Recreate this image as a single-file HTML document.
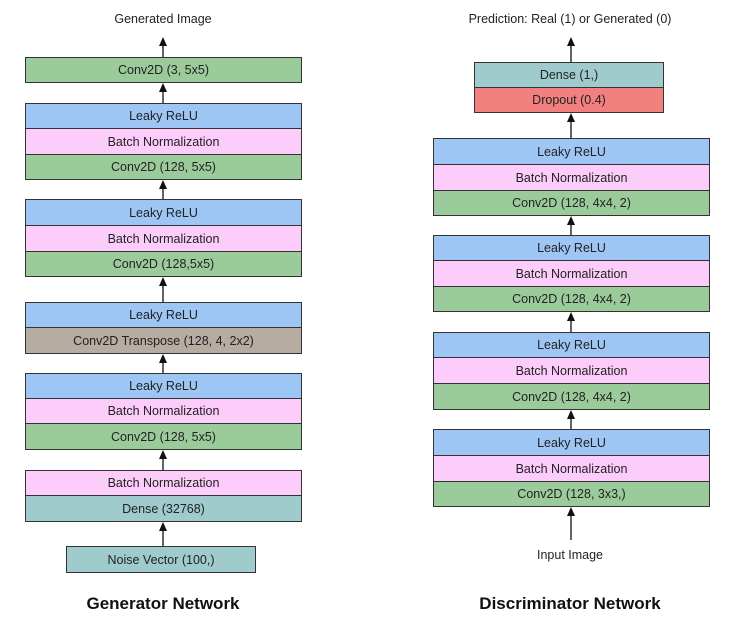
<!DOCTYPE html>
<html><head><style>
body{margin:0;width:740px;height:628px;background:#fff;position:relative;font-family:"Liberation Sans",sans-serif;overflow:hidden}
.b{position:absolute;box-sizing:border-box;border:1px solid #333;font-size:12.5px;color:#222;text-align:center;display:flex;align-items:center;justify-content:center}
.L{background:#9dc6f5}.P{background:#fcccfb}.G{background:#9ccb9b}.T{background:#9fcbcc}.R{background:#f2807e}.Y{background:#b6aca2}
.t{position:absolute;font-size:12.5px;color:#222;text-align:center}
.h{position:absolute;font-size:17px;font-weight:bold;color:#111;text-align:center}
svg{position:absolute;left:0;top:0}
</style></head><body>
<div class="t" style="left:25px;width:276px;top:12px">Generated Image</div>
<div class="b G" style="left:25px;top:57px;width:277px;height:26px">Conv2D (3, 5x5)</div>
<div class="b L" style="left:25px;top:103px;width:277px;height:26px">Leaky ReLU</div>
<div class="b P" style="left:25px;top:128px;width:277px;height:27px">Batch Normalization</div>
<div class="b G" style="left:25px;top:154px;width:277px;height:26px">Conv2D (128, 5x5)</div>
<div class="b L" style="left:25px;top:199px;width:277px;height:27px">Leaky ReLU</div>
<div class="b P" style="left:25px;top:225px;width:277px;height:27px">Batch Normalization</div>
<div class="b G" style="left:25px;top:251px;width:277px;height:26px">Conv2D (128,5x5)</div>
<div class="b L" style="left:25px;top:302px;width:277px;height:26px">Leaky ReLU</div>
<div class="b Y" style="left:25px;top:327px;width:277px;height:27px">Conv2D Transpose (128, 4, 2x2)</div>
<div class="b L" style="left:25px;top:373px;width:277px;height:26px">Leaky ReLU</div>
<div class="b P" style="left:25px;top:398px;width:277px;height:26px">Batch Normalization</div>
<div class="b G" style="left:25px;top:423px;width:277px;height:27px">Conv2D (128, 5x5)</div>
<div class="b P" style="left:25px;top:470px;width:277px;height:26px">Batch Normalization</div>
<div class="b T" style="left:25px;top:495px;width:277px;height:27px">Dense (32768)</div>
<div class="b T" style="left:66px;top:546px;width:190px;height:27px">Noise Vector (100,)</div>
<div class="h" style="left:25px;width:276px;top:594px">Generator Network</div>

<div class="t" style="left:420px;width:300px;top:12px">Prediction: Real (1) or Generated (0)</div>
<div class="b T" style="left:474px;top:62px;width:190px;height:26px">Dense (1,)</div>
<div class="b R" style="left:474px;top:87px;width:190px;height:26px">Dropout (0.4)</div>
<div class="b L" style="left:433px;top:138px;width:277px;height:27px">Leaky ReLU</div>
<div class="b P" style="left:433px;top:164px;width:277px;height:27px">Batch Normalization</div>
<div class="b G" style="left:433px;top:190px;width:277px;height:26px">Conv2D (128, 4x4, 2)</div>
<div class="b L" style="left:433px;top:235px;width:277px;height:26px">Leaky ReLU</div>
<div class="b P" style="left:433px;top:260px;width:277px;height:27px">Batch Normalization</div>
<div class="b G" style="left:433px;top:286px;width:277px;height:26px">Conv2D (128, 4x4, 2)</div>
<div class="b L" style="left:433px;top:332px;width:277px;height:26px">Leaky ReLU</div>
<div class="b P" style="left:433px;top:357px;width:277px;height:27px">Batch Normalization</div>
<div class="b G" style="left:433px;top:383px;width:277px;height:27px">Conv2D (128, 4x4, 2)</div>
<div class="b L" style="left:433px;top:429px;width:277px;height:27px">Leaky ReLU</div>
<div class="b P" style="left:433px;top:455px;width:277px;height:27px">Batch Normalization</div>
<div class="b G" style="left:433px;top:481px;width:277px;height:26px">Conv2D (128, 3x3,)</div>
<div class="t" style="left:420px;width:300px;top:548px">Input Image</div>
<div class="h" style="left:420px;width:300px;top:594px">Discriminator Network</div>

<svg width="740" height="628">
<g stroke="#111" stroke-width="1.3" fill="none">
<path d="M163,546 V526"/><path d="M163,470 V454"/><path d="M163,373 V358"/><path d="M163,302 V281"/>
<path d="M163,199 V184"/><path d="M163,103 V87"/><path d="M163,57 V41"/>
<path d="M571,540 V511"/><path d="M571,429 V414"/><path d="M571,332 V316"/><path d="M571,235 V220"/>
<path d="M571,138 V117"/><path d="M571,62 V41"/>
</g>
<g fill="#111">
<path d="M159,531 L163,522 L167,531z"/><path d="M159,459 L163,450 L167,459z"/><path d="M159,363 L163,354 L167,363z"/>
<path d="M159,286 L163,277 L167,286z"/><path d="M159,189 L163,180 L167,189z"/><path d="M159,92 L163,83 L167,92z"/>
<path d="M159,46 L163,37 L167,46z"/>
<path d="M567,516 L571,507 L575,516z"/><path d="M567,419 L571,410 L575,419z"/><path d="M567,321 L571,312 L575,321z"/>
<path d="M567,225 L571,216 L575,225z"/><path d="M567,122 L571,113 L575,122z"/><path d="M567,46 L571,37 L575,46z"/>
</g></svg>
</body></html>
